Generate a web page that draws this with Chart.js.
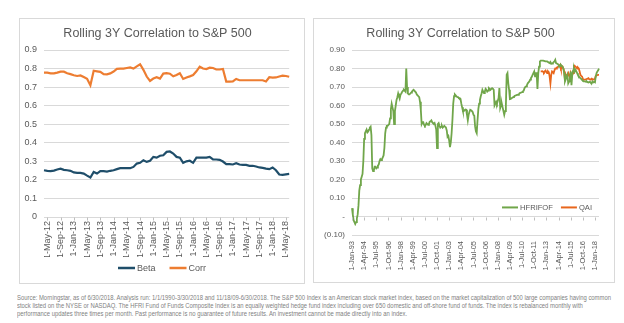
<!DOCTYPE html>
<html><head><meta charset="utf-8">
<script src="https://cdn.jsdelivr.net/npm/chart.js@4.4.0/dist/chart.umd.min.js"></script>
<style>
html,body{margin:0;padding:0;background:#fff;width:624px;height:323px;overflow:hidden;}
.panel{position:absolute;border:1px solid #D9D9D9;box-sizing:border-box;background:#fff;}
#p1{left:19px;top:18px;width:286px;height:266px;}
#p2{left:313px;top:18px;width:302px;height:265px;}
.panel canvas{position:absolute;left:0;top:0;}
#note{position:absolute;left:17px;top:294px;font-family:"Liberation Sans Narrow","Arial Narrow","Liberation Sans",sans-serif;font-size:6.4px;line-height:7.8px;color:#7f7f7f;white-space:nowrap;transform-origin:0 0;}
#note div{display:block;width:max-content;}
</style></head>
<body>
<div class="panel" id="p1"><canvas id="c1" width="284" height="264"></canvas></div>
<div class="panel" id="p2"><canvas id="c2" width="300" height="263"></canvas></div>
<div id="note">
<div id="l1">Source: Morningstar, as of 6/30/2018. Analysis run: 1/1/1990-3/30/2018 and 11/18/09-6/30/2018. The S&amp;P 500 Index is an American stock market index, based on the market capitalization of 500 large companies having common</div>
<div>stock listed on the NYSE or NASDAQ. The HFRI Fund of Funds Composite Index is an equally weighted hedge fund index including over 650 domestic and off-shore fund of funds. The index is rebalanced monthly with</div>
<div>performance updates three times per month. Past performance is no guarantee of future results. An investment cannot be made directly into an index.</div>
</div>
<script>
// ---------- DATA ----------
const titleText = 'Rolling 3Y Correlation to S&P 500';

// Left chart: monthly, Apr-2012 .. Jun-2018 (75 points)
const leftTickLabels = ['1-May-12','1-Sep-12','1-Jan-13','1-May-13','1-Sep-13','1-Jan-14','1-May-14','1-Sep-14','1-Jan-15','1-May-15','1-Sep-15','1-Jan-16','1-May-16','1-Sep-16','1-Jan-17','1-May-17','1-Sep-17','1-Jan-18','1-May-18'];
const betaValues = [
 0.252,0.249,0.247,0.250,0.256,0.260,0.254,0.252,0.249,0.240,0.238,0.238,
 0.234,0.223,0.213,0.243,0.234,0.247,0.247,0.245,0.249,0.252,0.258,0.263,
 0.263,0.263,0.263,0.270,0.288,0.292,0.306,0.297,0.303,0.324,0.320,0.330,
 0.333,0.351,0.353,0.342,0.324,0.320,0.292,0.300,0.303,0.292,0.320,0.320,
 0.320,0.320,0.324,0.310,0.310,0.308,0.299,0.285,0.285,0.283,0.290,0.283,
 0.281,0.281,0.276,0.276,0.272,0.267,0.265,0.261,0.258,0.267,0.252,0.229,
 0.227,0.230,0.232];
const corrValues = [
 0.778,0.778,0.774,0.774,0.778,0.783,0.783,0.775,0.770,0.764,0.760,0.763,
 0.754,0.745,0.710,0.788,0.785,0.782,0.770,0.769,0.774,0.784,0.798,0.800,
 0.800,0.803,0.806,0.800,0.812,0.823,0.793,0.757,0.733,0.746,0.753,0.746,
 0.773,0.775,0.772,0.758,0.765,0.775,0.744,0.752,0.758,0.765,0.785,0.810,
 0.800,0.797,0.805,0.803,0.795,0.795,0.798,0.730,0.730,0.731,0.744,0.737,
 0.737,0.737,0.737,0.737,0.737,0.737,0.737,0.730,0.753,0.751,0.752,0.757,
 0.762,0.760,0.756];

// Right chart: monthly, Jan-1993 .. Jun-2018 (306 points)
const rightTickLabels = ['1-Jan-93','1-Apr-94','1-Jul-95','1-Oct-96','1-Jan-98','1-Apr-99','1-Jul-00','1-Oct-01','1-Jan-03','1-Apr-04','1-Jul-05','1-Oct-06','1-Jan-08','1-Apr-09','1-Jul-10','1-Oct-11','1-Jan-13','1-Apr-14','1-Jul-15','1-Oct-16','1-Jan-18'];
const hfrifofValues = [
 0.045,0.010,-0.020,-0.030,-0.040,-0.030,-0.010,0.010,0.060,0.140,0.170,0.200,
 0.215,0.230,0.300,0.420,0.450,0.460,0.470,0.455,0.460,0.470,0.480,0.485,
 0.440,0.260,0.245,0.250,0.270,0.270,0.260,0.265,0.275,0.280,0.300,0.310,
 0.305,0.310,0.320,0.330,0.370,0.450,0.480,0.490,0.490,0.495,0.500,0.530,
 0.580,0.610,0.590,0.570,0.500,0.570,0.600,0.630,0.645,0.665,0.650,0.640,
 0.660,0.665,0.675,0.680,0.685,0.680,0.675,0.800,0.700,0.665,0.660,0.660,
 0.665,0.670,0.675,0.680,0.685,0.680,0.675,0.670,0.660,0.655,0.650,0.645,
 0.620,0.575,0.500,0.510,0.510,0.495,0.490,0.495,0.505,0.500,0.495,0.500,
 0.513,0.515,0.520,0.510,0.505,0.500,0.505,0.490,0.470,0.370,0.500,0.505,
 0.490,0.480,0.485,0.490,0.480,0.485,0.490,0.485,0.480,0.465,0.430,0.435,
 0.410,0.375,0.400,0.450,0.520,0.610,0.650,0.660,0.655,0.650,0.645,0.645,
 0.640,0.640,0.635,0.610,0.590,0.570,0.570,0.575,0.578,0.577,0.550,0.520,
 0.550,0.565,0.577,0.575,0.570,0.565,0.550,0.545,0.487,0.460,0.450,0.520,
 0.580,0.610,0.630,0.650,0.665,0.685,0.675,0.667,0.675,0.690,0.685,0.675,
 0.680,0.694,0.690,0.685,0.690,0.694,0.690,0.685,0.600,0.610,0.620,0.610,
 0.625,0.640,0.694,0.586,0.600,0.610,0.590,0.570,0.550,0.570,0.600,0.766,
 0.775,0.720,0.685,0.634,0.635,0.640,0.642,0.645,0.648,0.652,0.654,0.656,
 0.657,0.658,0.660,0.667,0.668,0.670,0.672,0.676,0.680,0.694,0.700,0.703,
 0.710,0.720,0.725,0.730,0.740,0.748,0.755,0.766,0.775,0.784,0.757,0.775,
 0.775,0.690,0.775,0.810,0.838,0.843,0.843,0.843,0.842,0.842,0.840,0.838,
 0.838,0.838,0.835,0.832,0.829,0.835,0.825,0.827,0.829,0.834,0.838,0.847,
 0.829,0.827,0.825,0.820,0.810,0.815,0.820,0.815,0.810,0.800,0.775,0.730,
 0.742,0.755,0.766,0.720,0.730,0.739,0.784,0.710,0.766,0.790,0.800,0.784,
 0.793,0.785,0.775,0.765,0.757,0.752,0.748,0.744,0.739,0.735,0.730,0.730,
 0.730,0.728,0.730,0.726,0.724,0.726,0.728,0.722,0.720,0.730,0.725,0.727,
 0.725,0.757,0.775,0.784,0.790,0.800];
const qaiStartIndex = 233; // first month with a QAI value (Jun-2012)
const qaiValues = [
 0.784,0.784,0.785,0.782,0.778,0.785,0.789,
 0.780,0.775,0.785,0.780,0.757,0.720,0.766,0.784,0.780,0.775,0.790,0.800,
 0.800,0.805,0.808,0.810,0.815,0.820,0.800,0.805,0.810,0.800,0.784,0.739,
 0.766,0.757,0.765,0.775,0.760,0.757,0.775,0.757,0.765,0.775,0.800,0.814,
 0.810,0.807,0.800,0.805,0.800,0.785,0.766,0.760,0.757,0.745,0.739,0.740,
 0.740,0.742,0.742,0.745,0.748,0.742,0.740,0.742,0.745,0.742,0.740,0.742,
 0.745,0.760,0.762,0.765,0.766,0.766];

// ---------- helpers ----------
const MONTHS=['Jan','Feb','Mar','Apr','May','Jun','Jul','Aug','Sep','Oct','Nov','Dec'];
function monthLabels(y0,m0,n){const out=[];for(let i=0;i<n;i++){const t=m0+i;const y=y0+Math.floor(t/12);out.push('1-'+MONTHS[t%12]+'-'+String(y%100).padStart(2,'0'));}return out;}
const leftCategories = monthLabels(2012,3,betaValues.length);
const rightCategories = monthLabels(1993,0,hfrifofValues.length);
const qaiSeries = new Array(qaiStartIndex).fill(null).concat(qaiValues);

// fit the footnote's first line to the page width
(function(){const l1=document.getElementById('l1');const w=l1.getBoundingClientRect().width;const s=594/w;document.getElementById('note').style.transform='scaleX('+s+')';})();

const GRAY='#595959', GRID='#D9D9D9';

const lineLegend = {
  id:'lineLegend',
  afterDraw(chart, args, o){
    const {ctx, chartArea} = chart;
    ctx.save();
    ctx.font = o.font;
    ctx.textBaseline='middle';
    const items = chart.data.datasets.map(d=>({text:d.label,color:d.borderColor}));
    const widths = items.map(it=>o.lineLen+o.gap+ctx.measureText(it.text).width);
    const total = widths.reduce((a,b)=>a+b,0)+o.itemGap*(items.length-1);
    let x = o.align==='right' ? chartArea.right - o.rightInset - total : (chart.width-total)/2;
    const y = o.yValue!==undefined ? chart.scales.y.getPixelForValue(o.yValue) : chartArea.bottom + o.yOffset;
    items.forEach((it,i)=>{
      ctx.strokeStyle=it.color; ctx.lineWidth=o.lineWidth;
      ctx.beginPath(); ctx.moveTo(x,y); ctx.lineTo(x+o.lineLen,y); ctx.stroke();
      ctx.fillStyle=GRAY; ctx.textAlign='left';
      ctx.fillText(it.text,x+o.lineLen+o.gap,y+0.5);
      x+=widths[i]+o.itemGap;
    });
    ctx.restore();
  }
};
const axisTicks = {
  id:'axisTicks',
  afterDatasetsDraw(chart, args, o){
    const {ctx} = chart; const xs=chart.scales.x, ys=chart.scales.y;
    const y0 = Math.round(ys.getPixelForValue(o.yValue))+0.5;
    ctx.save(); ctx.strokeStyle=o.color; ctx.lineWidth=1;
    ctx.beginPath();
    chart.data.labels.forEach((l,i)=>{ if(o.labels.includes(l)){ const x=Math.round(xs.getPixelForValue(i))+0.5; ctx.moveTo(x,y0); ctx.lineTo(x,y0+o.len);} });
    ctx.stroke(); ctx.restore();
  }
};

function xTickCb(list){ return function(v){ const l=this.getLabelForValue(v); return list.includes(l)?l:''; }; }

// ---------- left chart ----------
new Chart(document.getElementById('c1'),{
  type:'line',
  data:{labels:leftCategories,datasets:[
    {label:'Beta',data:betaValues,borderColor:'#1F4E6A',backgroundColor:'#1F4E6A',borderWidth:2.2,pointRadius:0,tension:0},
    {label:'Corr',data:corrValues,borderColor:'#ED7D31',backgroundColor:'#ED7D31',borderWidth:2.2,pointRadius:0,tension:0}
  ]},
  plugins:[lineLegend,axisTicks],
  options:{
    responsive:false,animation:false,
    layout:{padding:{left:0,right:9,top:0,bottom:26}},
    plugins:{
      legend:{display:false},tooltip:{enabled:false},
      title:{display:true,text:titleText,color:GRAY,font:{family:'Liberation Sans',size:12.5,weight:'normal'},padding:{top:7,bottom:9}},
      lineLegend:{font:'9px "Liberation Sans"',lineLen:17,gap:2,itemGap:14,lineWidth:2.5,yOffset:51},
      axisTicks:{yValue:0,len:3,color:'#BFBFBF',labels:leftTickLabels}
    },
    scales:{
      x:{type:'category',grid:{display:false,drawTicks:false},border:{display:false},
         ticks:{autoSkip:false,minRotation:90,maxRotation:90,padding:4,color:GRAY,font:{family:'Liberation Sans',size:9},callback:xTickCb(leftTickLabels)},
         afterFit(s){s.height=40;}},
      y:{min:0,max:0.9,grid:{color:GRID,drawTicks:false},border:{display:false},
         ticks:{stepSize:0.1,padding:7,color:GRAY,font:{family:'Liberation Sans',size:9},callback:v=>Math.abs(v)<1e-9?'0':v.toFixed(1)},
         afterFit(s){s.width=24;}}
    }
  }
});

// ---------- right chart ----------
new Chart(document.getElementById('c2'),{
  type:'line',
  data:{labels:rightCategories,datasets:[
    {label:'HFRIFOF',data:hfrifofValues,borderColor:'#70A64A',backgroundColor:'#70A64A',borderWidth:1.8,pointRadius:0,tension:0},
    {label:'QAI',data:qaiSeries,borderColor:'#E8661C',backgroundColor:'#E8661C',borderWidth:1.8,pointRadius:0,tension:0,spanGaps:false}
  ]},
  plugins:[lineLegend,axisTicks],
  options:{
    responsive:false,animation:false,
    layout:{padding:{left:0,right:7,top:0,bottom:0}},
    plugins:{
      legend:{display:false},tooltip:{enabled:false},
      title:{display:true,text:titleText,color:GRAY,font:{family:'Liberation Sans',size:12.5,weight:'normal'},padding:{top:7,bottom:9}},
      lineLegend:{font:'7.6px "Liberation Sans"',lineLen:16,gap:2,itemGap:8,lineWidth:2,align:'right',rightInset:7,yValue:0.049},
      axisTicks:{yValue:0,len:3,color:'#BFBFBF',labels:rightTickLabels}
    },
    scales:{
      x:{type:'category',grid:{display:false,drawTicks:false},border:{display:false},
         ticks:{autoSkip:false,minRotation:90,maxRotation:90,padding:6,color:GRAY,font:{family:'Liberation Sans',size:7.5},callback:xTickCb(rightTickLabels)},
         afterFit(s){s.height=47;}},
      y:{min:-0.1,max:0.9,grid:{color:GRID,drawTicks:false},border:{display:false},
         ticks:{stepSize:0.1,padding:7,color:GRAY,font:{family:'Liberation Sans',size:8},
           callback:v=>Math.abs(v)<1e-9?'-':(v<0?'('+Math.abs(v).toFixed(2)+')':v.toFixed(2))},
         afterFit(s){s.width=38;}}
    }
  }
});
</script>
</body></html>
